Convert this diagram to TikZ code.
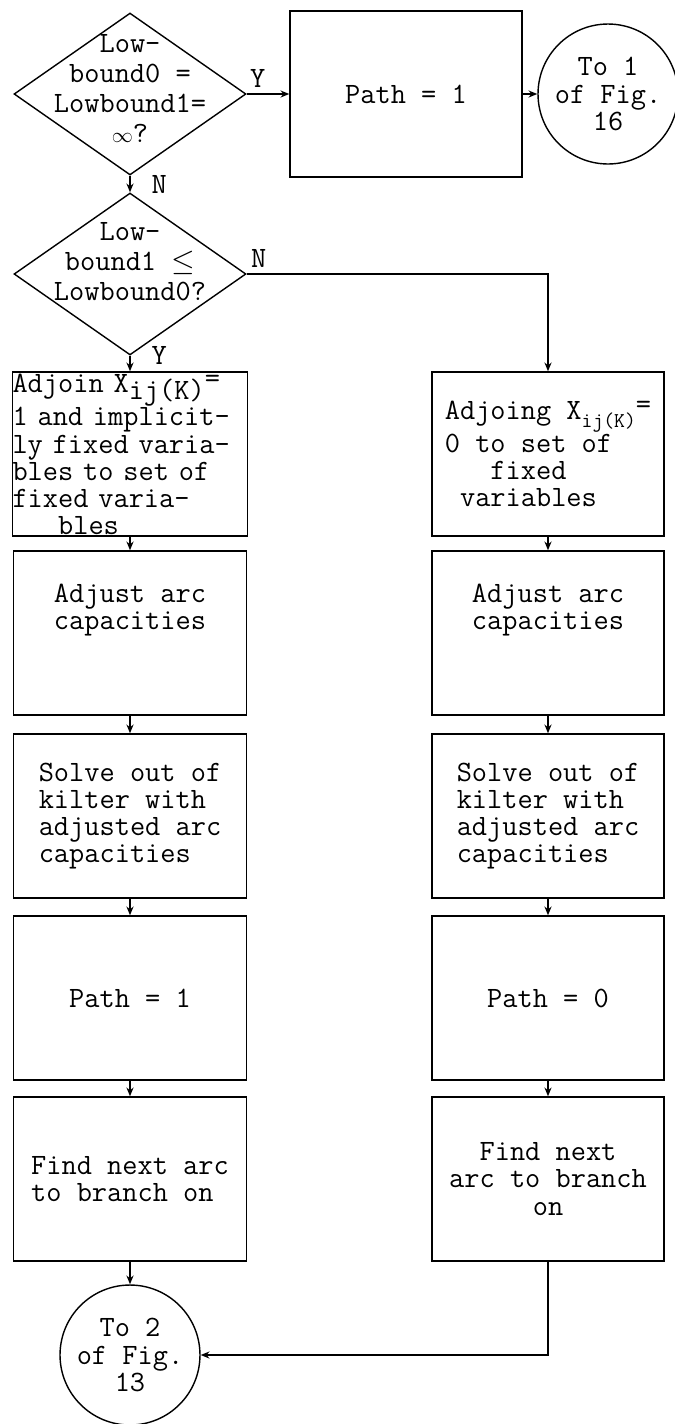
\documentclass[tikz,border=0pt]{standalone}
\usetikzlibrary{shapes.geometric,arrows.meta}

\newcommand{\qtext}[2]{\makebox[0pt]{\smash{\raisebox{#1}{\renewcommand{\arraystretch}{1.1}\begin{tabular}{@{}c@{}}#2\end{tabular}}}}}

\begin{document}
\begin{tikzpicture}[x=0.02cm,y=-0.02cm,line width=0.8pt,
	>={Stealth[length=5pt,width=4pt]},
	every node/.style={font=\fontsize{16.8}{15.4}\selectfont\ttfamily},
	box/.style={draw,rectangle,inner sep=0,minimum width=4.66cm,minimum height=3.28cm,align=center},
	ask/.style={draw,diamond,inner sep=0,minimum width=4.64cm,minimum height=3.24cm},
	link/.style={draw,circle,inner sep=0,minimum size=2.8cm,align=center}]
\useasboundingbox (0,0) rectangle (674,1424);

\node[ask] (low1) at (130,94) {\qtext{-0.1cm}{Low-\\bound0 =\\Lowbound1=\\{\fontsize{13}{13}\selectfont$\infty$}?}};
\node[box,minimum width=4.64cm,minimum height=3.32cm] (pinf) at (406,94) {Path = 1};
\node[link] (fig16) at (608,94) {To 1\\of Fig.\\16};
\node[ask] (low2) at (130,274) {\qtext{0.04cm}{Low-\\bound1 $\leq$\\Lowbound0?}};

\node[box,text width=4.7cm,align=left] (set1) at (130,454)
	{Adjoin X\raisebox{-0.55ex}{ij(K)}\raisebox{0.4ex}{=}\\1 and implicit-\\ly fixed varia-\\bles to set of\\fixed varia-\\\phantom{xxx}bles};
\node[box] (arc1) at (130,633) {Adjust arc\\capacities\\[0.5cm]};
\node[box,align=left] (solve1) at (130,816) {Solve out of\\kilter with\\adjusted arc\\capacities};
\node[box] (path1) at (130,998) {Path = 1};
\node[box,align=left] (next1) at (130,1179) {Find next arc\\to branch on};
\node[link] (fig13) at (130,1355) {To 2\\of Fig.\\13};

\node[box,minimum width=4.64cm,align=left] (set0) at (548,454)
	{Adjoing X\raisebox{-0.6ex}{\fontsize{12}{12}\selectfont ij(K)}\raisebox{0.5ex}{=}\\0 to set of\\\phantom{xxx}fixed\\\phantom{x}variables};
\node[box,minimum width=4.64cm] (arc0) at (548,633) {Adjust arc\\capacities\\[0.5cm]};
\node[box,minimum width=4.64cm,align=left] (solve0) at (548,816) {Solve out of\\kilter with\\adjusted arc\\capacities};
\node[box,minimum width=4.64cm] (path0) at (548,998) {Path = 0};
\node[box,minimum width=4.64cm] (next0) at (548,1179) {Find next\\arc to branch\\on};

\draw[->] (low1) -- node[above,pos=0.26] {Y} (pinf);
\draw[->] (pinf) -- (fig16);
\draw[->] (low1) -- node[right=0.3cm] {N} (low2);
\draw[->] (low2) -| node[above,pos=0.02] {N} (set0);
\draw[->] (low2) -- node[pos=0,right=0.3cm] {Y} (set1);

\draw[->] (set1) -- (arc1);
\draw[->] (arc1) -- (solve1);
\draw[->] (solve1) -- (path1);
\draw[->] (path1) -- (next1);
\draw[->] (next1) -- (fig13);

\draw[->] (set0) -- (arc0);
\draw[->] (arc0) -- (solve0);
\draw[->] (solve0) -- (path0);
\draw[->] (path0) -- (next0);
\draw[->] (next0) |- (fig13);
\end{tikzpicture}
\end{document}
